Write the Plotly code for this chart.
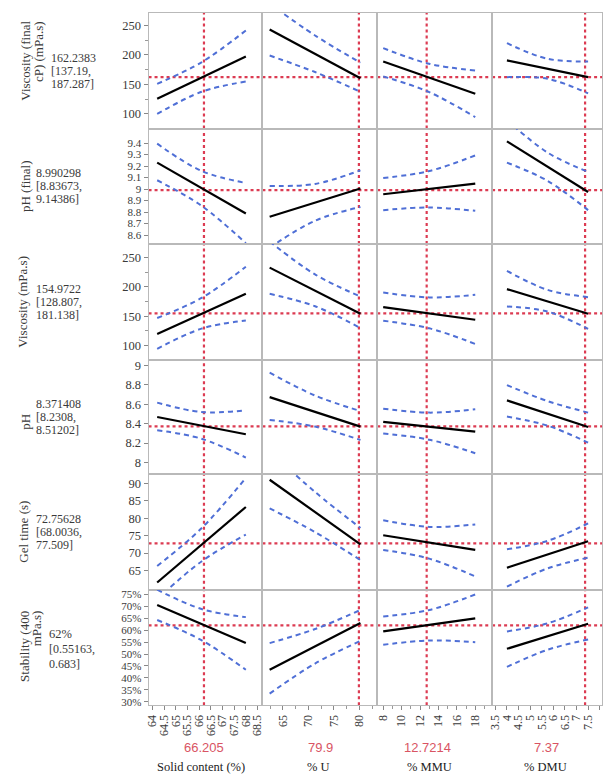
import plotly.graph_objects as go

W, H = 605, 778
col_px = [146, 261, 377, 493, 604]
row_px = [12, 128, 244, 360, 475, 591, 707]

# ---- factors (columns) ----
factor_names = ["Solid content (%)", "% U", "% MMU", "% DMU"]
factor_current = [66.205, 79.9, 12.7214, 7.37]
factor_current_text = ["66.205", "79.9", "12.7214", "7.37"]
factor_grid = [[64.2, 66.1, 68.0], [62.4, 71.3, 80.2], [8, 13, 18], [4, 5.75, 7.5]]
x_ranges = [[63.83, 68.71], [60.98, 83.5], [7.355, 19.83], [3.36, 8.10]]
x_tickvals = [
    [64, 64.5, 65, 65.5, 66, 66.5, 67, 67.5, 68, 68.5],
    [65, 70, 75, 80],
    [8, 10, 12, 14, 16, 18],
    [3.5, 4, 4.5, 5, 5.5, 6, 6.5, 7, 7.5, 8],
]
x_ticktext = [
    ["64", "64.5", "65", "65.5", "66", "66.5", "67", "67.5", "68", "68.5"],
    ["65", "70", "75", "80"],
    ["8", "10", "12", "14", "16", "18"],
    ["3.5", "4", "4.5", "5", "5.5", "6", "6.5", "7", "7.5", "8"],
]

# ---- responses (rows) ----
resp_title_lines = [
    ["Viscosity (final", "cP) (mPa.s)"],
    ["pH (final)"],
    ["Viscosity (mPa.s)"],
    ["pH"],
    ["Gel time (s)"],
    ["Stability (400", "mPa.s)"],
]
resp_value_lines = [
    ["162.2383", "[137.19,", "187.287]"],
    ["8.990298", "[8.83673,", "9.14386]"],
    ["154.9722", "[128.807,", "181.138]"],
    ["8.371408", "[8.2308,", "8.51202]"],
    ["72.75628", "[68.0036,", "77.509]"],
    ["62%", "[0.55163,", "0.683]"],
]
resp_current = [162.2383, 8.990298, 154.9722, 8.371408, 72.75628, 0.62]
y_ranges = [[75.3, 271.2], [8.522, 9.527], [76.4, 272.5], [7.88, 9.06], [59.5, 92.6], [0.285, 0.770]]
y_tickvals = [
    [100, 150, 200, 250],
    [8.6, 8.7, 8.8, 8.9, 9.0, 9.1, 9.2, 9.3, 9.4],
    [100, 150, 200, 250],
    [8.0, 8.2, 8.4, 8.6, 8.8, 9.0],
    [65, 70, 75, 80, 85, 90],
    [0.30, 0.35, 0.40, 0.45, 0.50, 0.55, 0.60, 0.65, 0.70, 0.75],
]
y_ticktext = [
    ["100", "150", "200", "250"],
    ["8.6", "8.7", "8.8", "8.9", "9", "9.1", "9.2", "9.3", "9.4"],
    ["100", "150", "200", "250"],
    ["8", "8.2", "8.4", "8.6", "8.8", "9"],
    ["65", "70", "75", "80", "85", "90"],
    ["30%", "35%", "40%", "45%", "50%", "55%", "60%", "65%", "70%", "75%"],
]

# prediction line endpoints [at grid lo, at grid hi] per factor
visc_final_pred = [[125.8, 197.5], [243, 160.5], [189, 134.2], [190.7, 162.4]]
visc_final_upper = [[151, 187.5, 241.5], [287, 233, 187], [211.6, 185, 173.7], [220, 193.5, 189]]
visc_final_lower = [[100, 137.5, 155], [199, 171, 137.5], [163.6, 137, 94.6], [162.4, 159.6, 135]]

ph_final_pred = [[9.23, 8.788], [8.759, 9.005], [8.955, 9.048], [9.415, 8.975]]
ph_final_upper = [[9.395, 9.158, 9.053], [9.027, 9.045, 9.163], [9.097, 9.157, 9.293], [9.60, 9.318, 9.149]]
ph_final_lower = [[9.077, 8.855, 8.53], [8.49, 8.725, 8.845], [8.817, 8.84, 8.811], [9.23, 9.072, 8.817]]

visc_pred = [[120, 188], [232.5, 154.2], [165.5, 144], [196, 154.2]]
visc_upper = [[147, 181, 234], [277, 221, 183.5], [190.2, 182, 186.3], [226.9, 194.8, 182.4]]
visc_lower = [[94.6, 129, 142.9], [188, 167, 130], [142.4, 129.5, 103], [166.6, 158, 128.4]]

ph_pred = [[8.469, 8.291], [8.674, 8.37], [8.418, 8.318], [8.64, 8.366]]
ph_upper = [[8.617, 8.52, 8.537], [8.925, 8.69, 8.53], [8.555, 8.514, 8.548], [8.798, 8.633, 8.514]]
ph_lower = [[8.332, 8.245, 8.051], [8.438, 8.37, 8.232], [8.298, 8.235, 8.096], [8.473, 8.38, 8.205]]

gel_pred = [[61.56, 83.2], [91.0, 72.5], [75.1, 70.9], [65.8, 73.4]]
gel_upper = [[66.3, 77.1, 91.5], [99.2, 87.5, 77.2], [79.4, 77.5, 78.2], [71.1, 73.5, 78.5]]
gel_lower = [[56.8, 67.6, 75.3], [82.8, 76.0, 68.0], [70.9, 68.4, 63.3], [60.4, 65.6, 68.7]]

stab_pred = [[0.706, 0.546], [0.434, 0.630], [0.595, 0.650], [0.522, 0.627]]
stab_upper = [[0.770, 0.689, 0.655], [0.546, 0.605, 0.685], [0.658, 0.685, 0.750], [0.595, 0.629, 0.696]]
stab_lower = [[0.643, 0.558, 0.434], [0.334, 0.460, 0.555], [0.539, 0.557, 0.550], [0.446, 0.518, 0.561]]

preds = [visc_final_pred, ph_final_pred, visc_pred, ph_pred, gel_pred, stab_pred]
uppers = [visc_final_upper, ph_final_upper, visc_upper, ph_upper, gel_upper, stab_upper]
lowers = [visc_final_lower, ph_final_lower, visc_lower, ph_lower, gel_lower, stab_lower]

# ---- styles ----
SERIF = "Liberation Serif, Times New Roman, serif"
FRAME = "#b9b9b9"
RED = "#dc3b52"
BLUE = "#4f6fd6"
TXT = "#3a3a3a"

fig = go.Figure()
layout = dict(
    width=W, height=H, margin=dict(l=0, r=0, t=0, b=0),
    paper_bgcolor="white", plot_bgcolor="white", showlegend=False,
    font=dict(family=SERIF, size=12, color=TXT),
)
shapes = []
annotations = []

for r in range(6):
    for c in range(4):
        k = r * 4 + c + 1
        xa = "x" if k == 1 else f"x{k}"
        ya = "y" if k == 1 else f"y{k}"
        xname = "xaxis" if k == 1 else f"xaxis{k}"
        yname = "yaxis" if k == 1 else f"yaxis{k}"
        bottom = r == 5
        left = c == 0
        xax = dict(
            domain=[col_px[c] / W, col_px[c + 1] / W], anchor=ya, range=x_ranges[c],
            showline=True, mirror=True, linecolor=FRAME, linewidth=1,
            showgrid=False, zeroline=False, fixedrange=True,
            showticklabels=bottom, ticks="outside" if bottom else "",
            ticklen=4, tickcolor="#888", tickvals=x_tickvals[c], ticktext=x_ticktext[c],
            tickangle=-90, tickfont=dict(family=SERIF, size=12, color=TXT),
        )
        if bottom and c == 1:
            xax["minor"] = dict(ticks="outside", ticklen=3, tickcolor="#999", dtick=2.5, tick0=65)
        if bottom and c == 2:
            xax["minor"] = dict(ticks="outside", ticklen=3, tickcolor="#999", dtick=1, tick0=8)
        yfont = 11 if r in (1, 5) else 12.5
        yax = dict(
            domain=[1 - row_px[r + 1] / H, 1 - row_px[r] / H], anchor=xa, range=y_ranges[r],
            showline=True, mirror=True, linecolor=FRAME, linewidth=1,
            showgrid=False, zeroline=False, fixedrange=True,
            showticklabels=left, ticks="outside" if left else "",
            ticklen=4, tickcolor="#888", tickvals=y_tickvals[r], ticktext=y_ticktext[r],
            tickfont=dict(family=SERIF, size=yfont, color=TXT),
        )
        if left and r in (0, 2):
            yax["minor"] = dict(ticks="outside", ticklen=3, tickcolor="#999", dtick=25, tick0=0)
        layout[xname] = xax
        layout[yname] = yax

        g = factor_grid[c]
        # confidence curves
        for band in (uppers[r][c], lowers[r][c]):
            fig.add_trace(go.Scatter(
                x=g, y=band, mode="lines", xaxis=xa, yaxis=ya, hoverinfo="skip",
                line=dict(color=BLUE, width=2, dash="5px,4px", shape="spline"),
            ))
        # prediction line
        fig.add_trace(go.Scatter(
            x=[g[0], g[-1]], y=preds[r][c], mode="lines", xaxis=xa, yaxis=ya,
            line=dict(color="black", width=2.2), hoverinfo="skip",
        ))
        # current-value cross hairs
        xd = "x domain" if k == 1 else f"x{k} domain"
        yd = "y domain" if k == 1 else f"y{k} domain"
        shapes.append(dict(type="line", xref=xd, yref=ya, x0=0, x1=1,
                           y0=resp_current[r], y1=resp_current[r], layer="below",
                           line=dict(color=RED, width=2.2, dash="3px,3px")))
        shapes.append(dict(type="line", xref=xa, yref=yd, x0=factor_current[c], x1=factor_current[c],
                           y0=0, y1=1, layer="below",
                           line=dict(color=RED, width=2.2, dash="3px,3px")))

# ---- left-side texts ----
title_x = [[22, 35], [22], [19], [22], [20], [20, 33]]
title_top = [18, None, None, None, None, 610]
value_x = [46, 31, 31, 31, 31, 44]
value_y = [[57, 70, 83], [173, 186, 199], [289, 302, 315], [405, 418, 431], [520, 533, 546], [635, 651, 666]]

for r in range(6):
    cy = (row_px[r] + row_px[r + 1]) / 2
    lines = resp_title_lines[r]
    for i, t in enumerate(lines):
        if title_top[r] is not None:
            annotations.append(dict(text=t, xref="paper", yref="paper", x=title_x[r][i] / W,
                                    y=1 - title_top[r] / H, xanchor="center", yanchor="top",
                                    textangle=-90, showarrow=False,
                                    font=dict(family=SERIF, size=13, color=TXT)))
        else:
            annotations.append(dict(text=t, xref="paper", yref="paper", x=title_x[r][i] / W,
                                    y=1 - (cy + (5 if r == 3 else 0)) / H, xanchor="center", yanchor="middle",
                                    textangle=-90, showarrow=False,
                                    font=dict(family=SERIF, size=13, color=TXT)))
    for i, t in enumerate(resp_value_lines[r]):
        annotations.append(dict(text=t, xref="paper", yref="paper", x=value_x[r] / W,
                                y=1 - value_y[r][i] / H, xanchor="left", yanchor="middle",
                                showarrow=False, borderpad=0,
                                font=dict(family=SERIF, size=12.5 if (r == 5 and i == 0) else 12, color=TXT)))

# ---- bottom texts ----
cur_x = [202, 320, 428, 548]
name_x = [199, 318, 430, 547]
for c in range(4):
    annotations.append(dict(text=factor_current_text[c], xref="paper", yref="paper",
                            x=cur_x[c] / W, y=1 - 749 / H, xanchor="center", yanchor="middle",
                            showarrow=False,
                            font=dict(family="Liberation Sans, Arial, sans-serif", size=13, color="#d95463")))
    annotations.append(dict(text=factor_names[c], xref="paper", yref="paper",
                            x=name_x[c] / W, y=1 - 769 / H, xanchor="center", yanchor="middle",
                            showarrow=False, font=dict(family=SERIF, size=12.5, color="#222")))

layout["shapes"] = shapes
layout["annotations"] = annotations
fig.update_layout(**layout)
fig.write_html("out.html")
